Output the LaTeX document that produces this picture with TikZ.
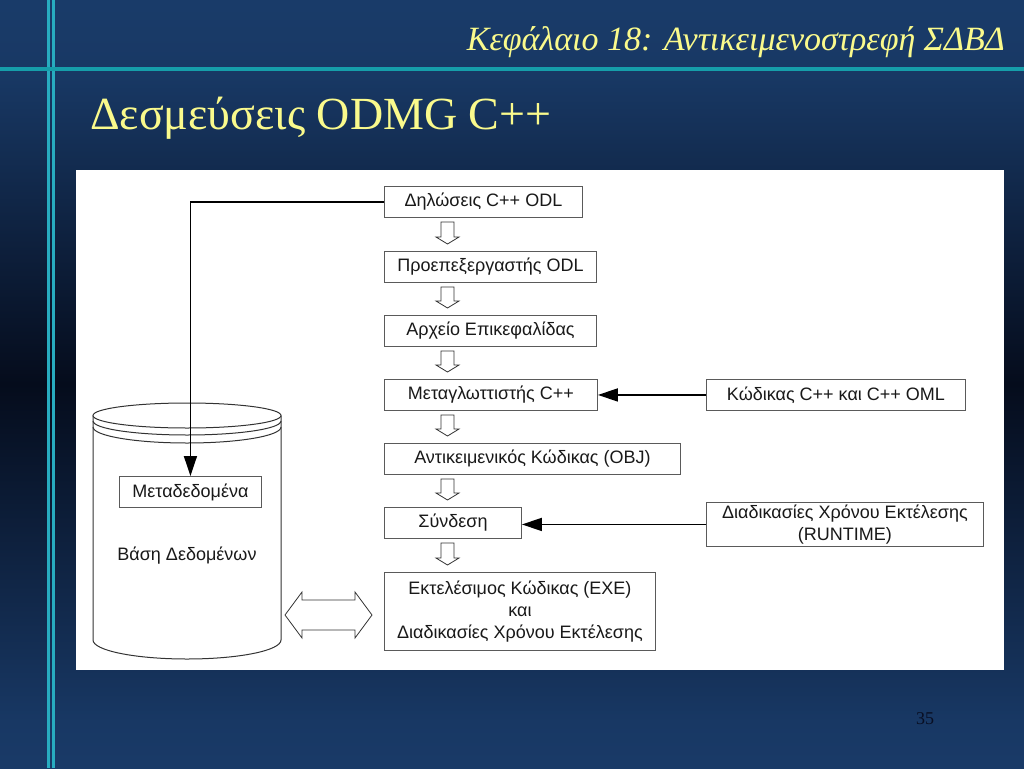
\documentclass[tikz,border=0pt]{standalone}
\usepackage{fontspec}
\setmainfont{Liberation Serif}
\setsansfont{Liberation Sans}
\usetikzlibrary{arrows.meta,calc}
\definecolor{tealA}{RGB}{22,158,170}
\definecolor{tealB}{RGB}{40,172,192}
\definecolor{ttl}{RGB}{250,250,140}
\definecolor{pgc}{RGB}{8,14,34}
\definecolor{bgA}{RGB}{33,76,132}
\definecolor{bgB}{RGB}{24,56,100}
\definecolor{bgC}{RGB}{5,12,28}
\definecolor{boxline}{RGB}{90,90,90}
\pgfdeclareverticalshading{bgshade}{100bp}{color(0bp)=(bgA); color(28bp)=(bgB); color(50bp)=(bgC); color(70bp)=(bgB); color(100bp)=(bgA)}
\newcommand{\hdown}[2]{\draw[hollow] let \p1=(#1.south west), \p2=(#2.north west) in
 (\x1+57pt,\y1-4pt) -- (\x1+70pt,\y1-4pt) -- (\x1+70pt,\y2+14pt) -- (\x1+75pt,\y2+14pt) -- (\x1+63.5pt,\y2+7pt) -- (\x1+52pt,\y2+14pt) -- (\x1+57pt,\y2+14pt) -- cycle;}
\begin{document}
\begin{tikzpicture}[x=1pt,y=-1pt,
 box/.style={draw=boxline, line width=0.9pt, fill=white, font=\sffamily\fontsize{18}{22}\selectfont, text=black!90, inner sep=0pt, anchor=north west, align=center},
 conn/.style={line width=1.6pt, black, -{Triangle[length=20pt,width=13pt]}},
 hollow/.style={draw=black!80, line width=0.8pt, fill=white, line join=miter},
 cyl/.style={draw=black!80, line width=1pt}]
\useasboundingbox (0,0) rectangle (1024,768);
\fill[shading=bgshade] (0,0) rectangle (1024,768);
\fill[tealB] (47,0) rectangle (50,768);
\fill[tealB] (52,0) rectangle (55,768);
\fill[tealA] (0,66.5) rectangle (1024,71);
\fill[white] (76,170) rectangle (1004,670);

\node[anchor=base east, inner sep=0pt, text=ttl, font=\itshape\fontsize{34}{40}\selectfont] (hdr) at (1005,51) {Κεφάλαιο 18: Αντικειμενοστρεφή ΣΔΒΔ};
\node[anchor=base west, inner sep=0pt, text=ttl, font=\fontsize{46}{54}\selectfont] (title) at (90,129) {Δεσμεύσεις ODMG C++};
\node[anchor=base west, inner sep=0pt, text=pgc, font=\fontsize{18}{20}\selectfont] (pg) at (916,724) {35};

% cylinder
\fill[white] (93,415.5) -- (93,640) arc[start angle=180,end angle=360,x radius=94pt,y radius=19pt] -- (281,415.5) -- cycle;
\draw[cyl] (93,415.5) -- (93,640) arc[start angle=180,end angle=360,x radius=94pt,y radius=19pt] -- (281,415.5);
\draw[cyl] (187,415.5) ellipse [x radius=94pt, y radius=12.5pt];
\draw[cyl] (93,421) arc[start angle=180,end angle=360,x radius=94pt,y radius=14pt];
\draw[cyl] (93,427) arc[start angle=180,end angle=360,x radius=94pt,y radius=16pt];
\node[font=\sffamily\fontsize{18}{22}\selectfont, text=black!90, inner sep=0pt] (db) at (187,556) {Βάση Δεδομένων};

\node[box, minimum width=198pt, minimum height=31pt] (b1) at (384,186) {Δηλώσεις C++ ODL};
\node[box, minimum width=212pt, minimum height=31pt] (b2) at (384,251) {Προεπεξεργαστής ODL};
\node[box, minimum width=212pt, minimum height=31pt] (b3) at (384,315) {Αρχείο Επικεφαλίδας};
\node[box, minimum width=213pt, minimum height=31pt] (b4) at (384,379) {Μεταγλωττιστής C++};
\node[box, minimum width=296pt, minimum height=31pt] (b5) at (384,443) {Αντικειμενικός Κώδικας (OBJ)};
\node[box, minimum width=137pt, minimum height=31pt] (b6) at (384,507) {Σύνδεση};
\node[box, minimum width=271pt, minimum height=78pt] (b7) at (384,572) {Εκτελέσιμος Κώδικας (EXE)\\και\\Διαδικασίες Χρόνου Εκτέλεσης};
\node[box, minimum width=259pt, minimum height=31pt] (b8) at (706,379) {Κώδικας C++ και C++ OML};
\node[box, minimum width=277pt, minimum height=44pt] (b9) at (706,502) {Διαδικασίες Χρόνου Εκτέλεσης\\(RUNTIME)};
\node[box, minimum width=142pt, minimum height=31pt] (meta) at (119,476) {Μεταδεδομένα};

\hdown{b1}{b2}
\hdown{b2}{b3}
\hdown{b3}{b4}
\hdown{b4}{b5}
\hdown{b5}{b6}
\hdown{b6}{b7}

\draw[conn] (b1.west) -| (meta.north);
\draw[conn] (b8.west) -- (b4.east);
\draw[conn] (b9.west) -- (b9.west -| b6.east);

\draw[hollow] (285,615) -- (302,592) -- (302,600) -- (355,600) -- (355,592) -- (372,615) -- (355,638) -- (355,630) -- (302,630) -- (302,638) -- cycle;
\end{tikzpicture}
\end{document}
